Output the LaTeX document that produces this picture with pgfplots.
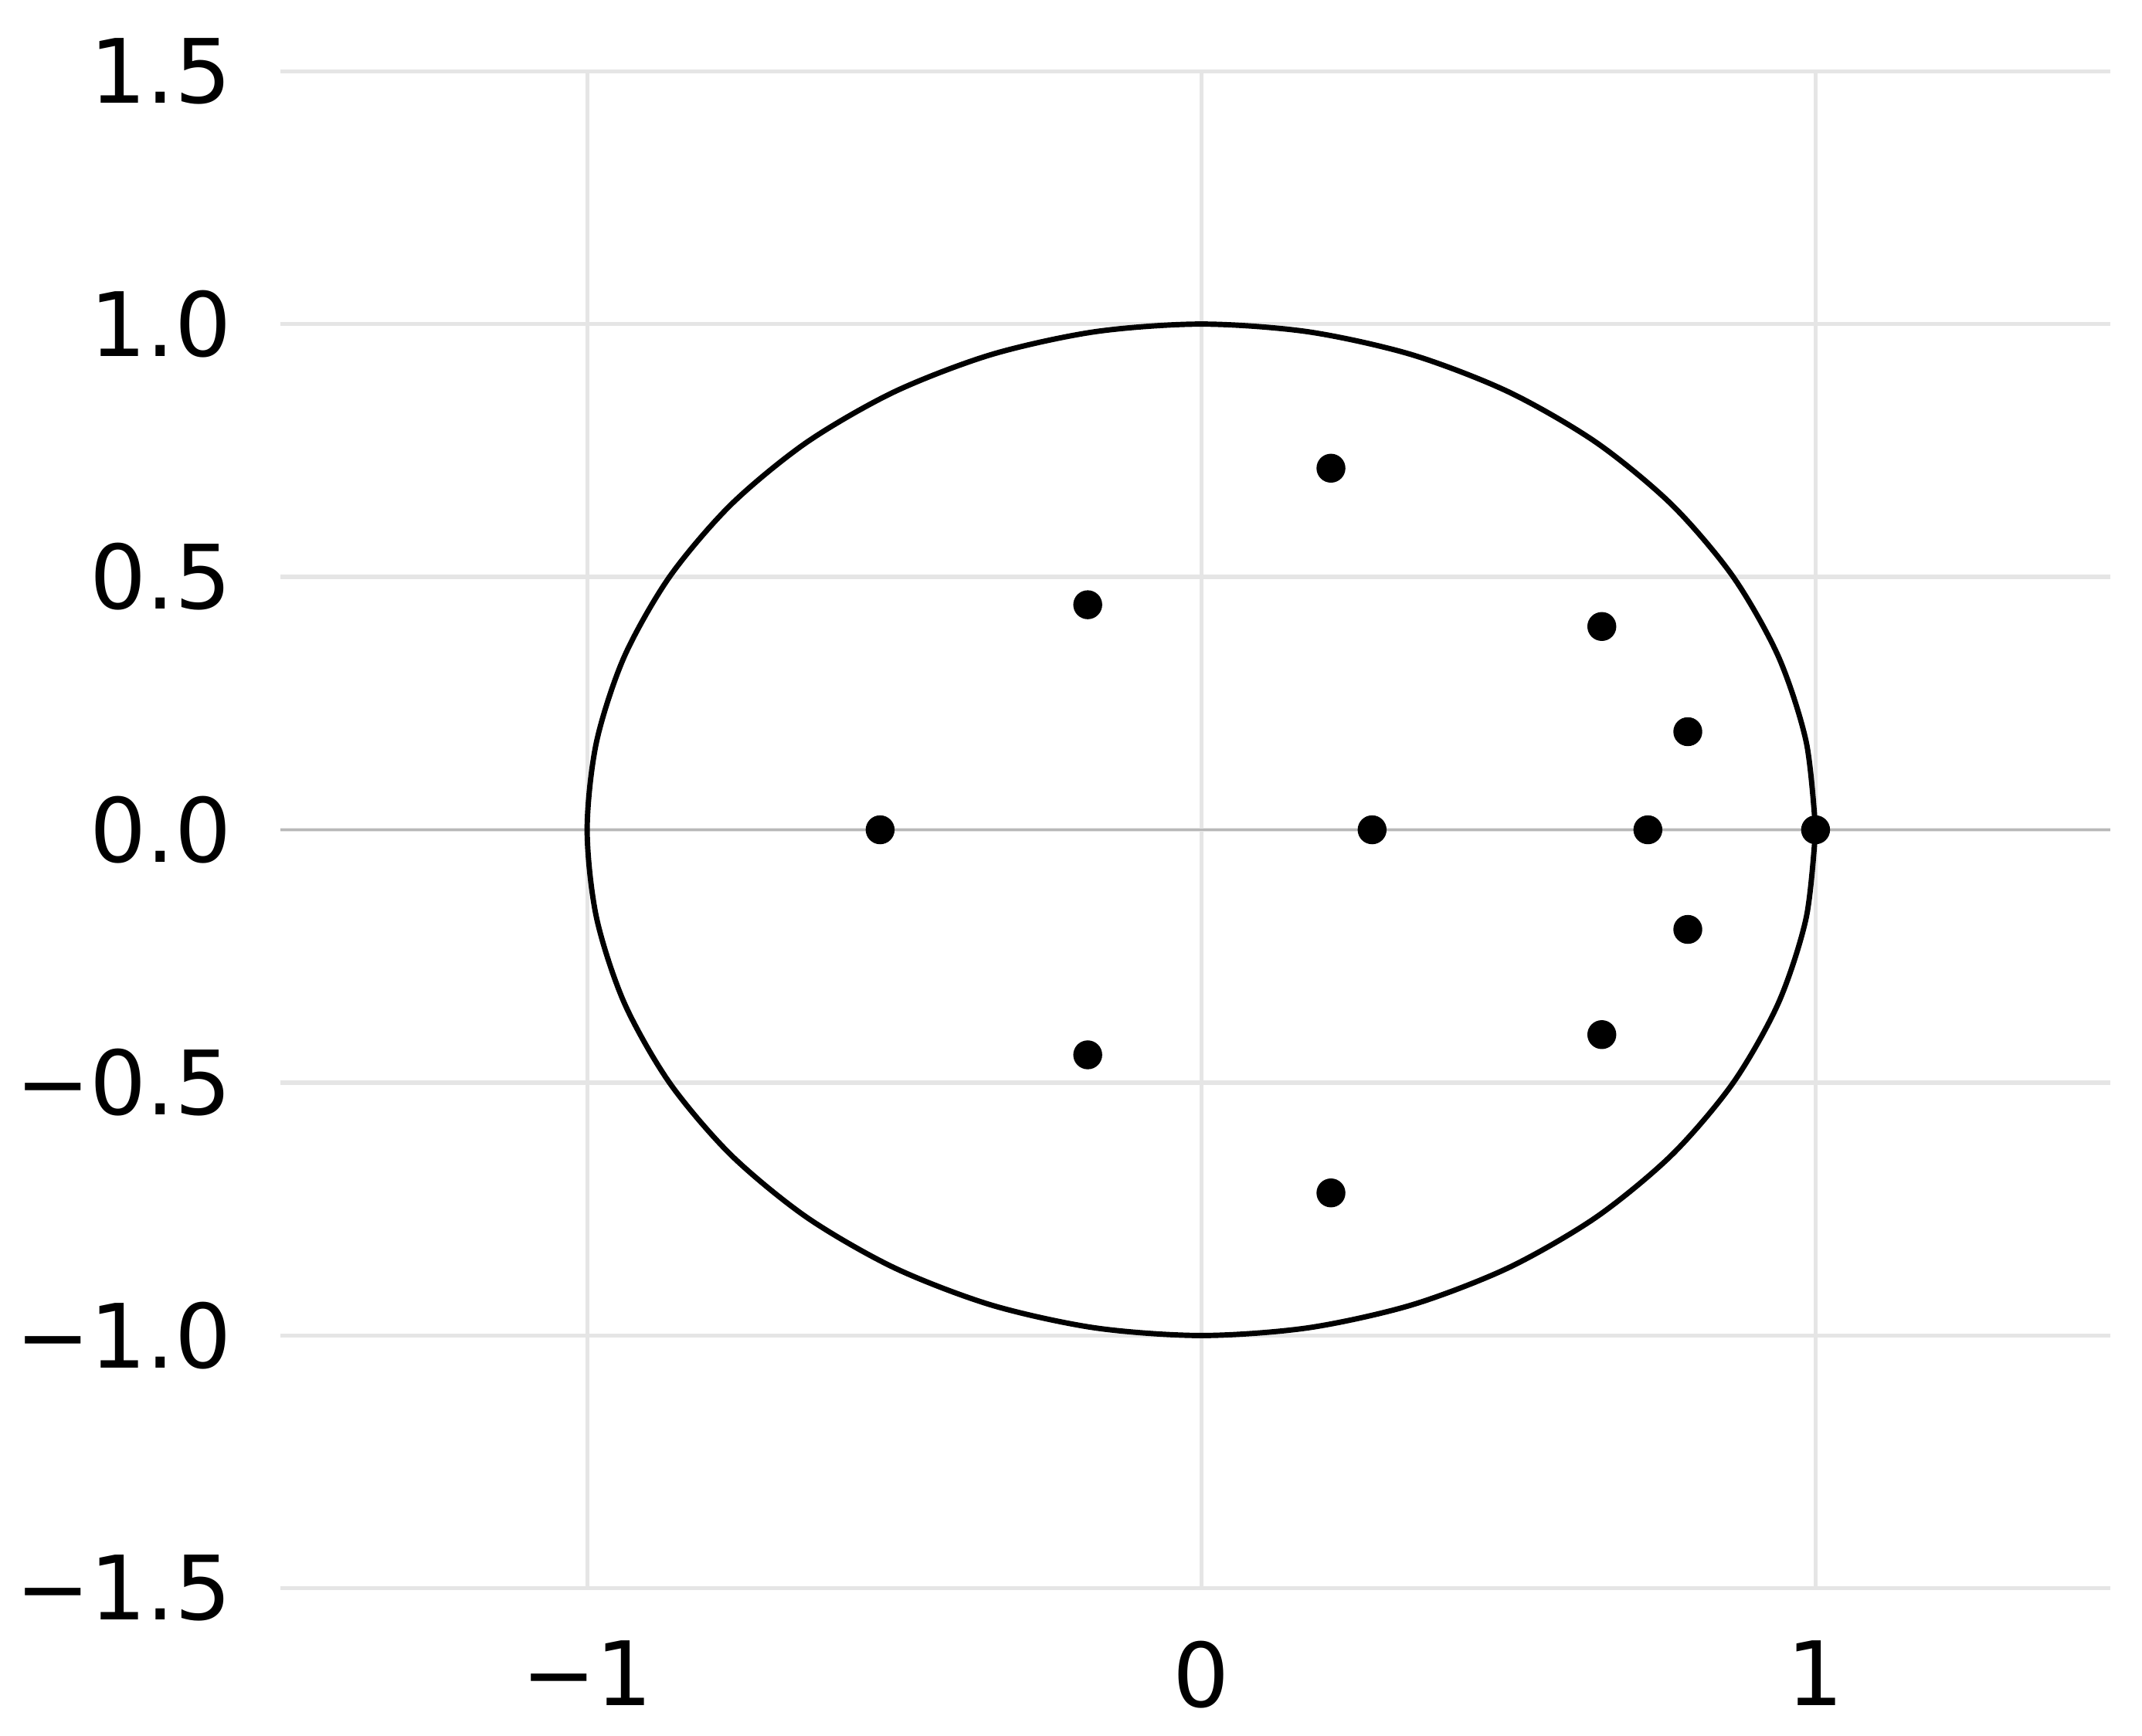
\documentclass[border=0pt]{standalone}
\usepackage{fontspec}
\setmainfont{DejaVu Sans}
\usepackage{pgfplots}
\pgfplotsset{compat=1.18}
\begin{document}
\begin{tikzpicture}
\begin{axis}[
  at={(0,0)}, anchor=south west,
  scale only axis, width=341.8pt, height=283.4pt,
  xmin=-1.5, xmax=1.48, ymin=-1.5, ymax=1.5,
  axis line style={draw=none},
  tick style={draw=none},
  xtick={-1,0,1}, xticklabels={−1,0,1},
  ytick={-1.5,-1,-0.5,0,0.5,1,1.5},
  yticklabels={−1.5,−1.0,−0.5,0.0,0.5,1.0,1.5},
  grid=major,
  major grid style={color=black!10, line width=0.75pt},
  ticklabel style={font=\fontsize{16.6}{19}\selectfont, text=black},
  yticklabel style={anchor=east, inner sep=0pt, xshift=-8.9pt},
  xticklabel style={anchor=north, inner sep=0pt, yshift=-9.6pt},
  clip=false,
]
\addplot[color=black!28, line width=0.5pt, forget plot] coordinates {(-1.5,0) (1.48,0)};
\addplot[black, line width=1pt, smooth, forget plot] coordinates {
(1,0) (0.9848,0.1736) (0.9397,0.3420) (0.8660,0.5) (0.7660,0.6428) (0.6428,0.7660)
(0.5,0.8660) (0.3420,0.9397) (0.1736,0.9848) (0,1)
(-0.1736,0.9848) (-0.3420,0.9397) (-0.5,0.8660) (-0.6428,0.7660) (-0.7660,0.6428)
(-0.8660,0.5) (-0.9397,0.3420) (-0.9848,0.1736) (-1,0)
(-0.9848,-0.1736) (-0.9397,-0.3420) (-0.8660,-0.5) (-0.7660,-0.6428) (-0.6428,-0.7660)
(-0.5,-0.8660) (-0.3420,-0.9397) (-0.1736,-0.9848) (0,-1)
(0.1736,-0.9848) (0.3420,-0.9397) (0.5,-0.8660) (0.6428,-0.7660) (0.7660,-0.6428)
(0.8660,-0.5) (0.9397,-0.3420) (0.9848,-0.1736) (1,0)
};
\addplot[only marks, mark=*, mark size=2.5pt, black, forget plot] coordinates {
(0.211,0.715) (-0.185,0.445) (0.652,0.402) (0.792,0.194)
(-0.523,0) (0.278,0) (0.727,0) (1,0)
(0.792,-0.197) (0.652,-0.405) (-0.185,-0.445) (0.211,-0.718)
};
\end{axis}
\pgfresetboundingbox
\path (-52.3pt,-27.5pt) rectangle (347.7pt,296.7pt);
\end{tikzpicture}
\end{document}
